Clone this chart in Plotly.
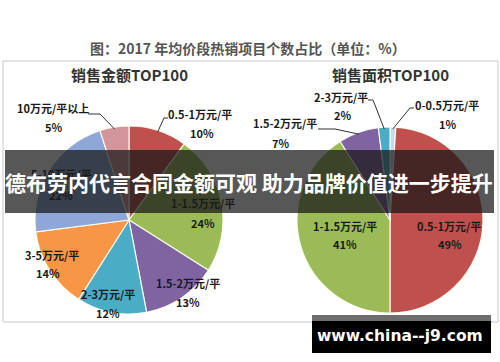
import math
import plotly.graph_objects as go

W, H = 500, 362

# ---------------- data ----------------
title_text = "图：2017 年均价段热销项目个数占比（单位：%）"
banner_text = "德布劳内代言合同金额可观 助力品牌价值进一步提升"
watermark_text = "www.china--j9.com"

left_title = "销售金额TOP100"
left_labels = ["0.5-1万元/平", "1-1.5万元/平", "1.5-2万元/平", "2-3万元/平",
               "3-5万元/平", "5-10万元/平", "10万元/平以上"]
left_values = [10, 24, 13, 12, 14, 22, 5]

right_title = "销售面积TOP100"
right_labels = ["0-0.5万元/平", "0.5-1万元/平", "1-1.5万元/平", "1.5-2万元/平", "2-3万元/平"]
right_values = [1, 49, 41, 7, 2]

# ---------------- styles / positions ----------------
color_map = {
    "0-0.5万元/平": "#C6D9F1",
    "0.5-1万元/平": "#C0504D",
    "1-1.5万元/平": "#9BBB59",
    "1.5-2万元/平": "#8064A2",
    "2-3万元/平": "#4BACC6",
    "3-5万元/平": "#F79646",
    "5-10万元/平": "#8EA6D8",
    "10万元/平以上": "#D4959A",
}

# pie centres and radii in pixels
L_CX, L_CY, L_R = 129, 220, 94
R_CX, R_CY, R_R = 390, 220, 93

# label (name, value) centres in pixels
left_pos = {
    "0.5-1万元/平": ((200, 114), (202, 133)),
    "1-1.5万元/平": ((203, 203), (203, 223)),
    "1.5-2万元/平": ((188, 283), (188, 302)),
    "2-3万元/平": ((108, 294), (108, 313)),
    "3-5万元/平": ((52, 255), (48, 273)),
    "5-10万元/平": ((61, 174), (61, 195)),
    "10万元/平以上": ((53, 108), (53, 127)),
}
right_pos = {
    "0-0.5万元/平": ((447, 105), (447, 124)),
    "0.5-1万元/平": ((449, 226), (450, 244)),
    "1-1.5万元/平": ((345, 226), (345, 244)),
    "1.5-2万元/平": ((285, 123), (280, 143)),
    "2-3万元/平": ((341, 97), (342, 115)),
}
# leader line start points (pixels); line ends on the slice edge
left_leaders = {
    "10万元/平以上": [(88, 114), (100, 114)],
    "0.5-1万元/平": [(168, 118), (164, 118)],
}
right_leaders = {
    "2-3万元/平": [(368, 100), (373, 100)],
    "0-0.5万元/平": [(414, 108), (410, 108)],
    "1.5-2万元/平": [(318, 129), (335, 129)],
}


def px(x):
    return x / W


def py(y):
    return 1 - y / H


def edge_point(values, labels, label, cx, cy, r, f=0.98):
    i = labels.index(label)
    total = sum(values)
    mid = (sum(values[:i]) + values[i] / 2) / total
    a = 2 * math.pi * mid
    return (cx + f * r * math.sin(a), cy - f * r * math.cos(a))


def pie_domain(cx, cy, r):
    return dict(x=[px(cx - r), px(cx + r)], y=[py(cy + r), py(cy - r)])


fig = go.Figure()
for labels, values, (cx, cy, r) in [
    (left_labels, left_values, (L_CX, L_CY, L_R)),
    (right_labels, right_values, (R_CX, R_CY, R_R)),
]:
    fig.add_trace(go.Pie(
        labels=labels, values=values, sort=False, direction="clockwise",
        rotation=0, textinfo="none", hoverinfo="skip",
        marker=dict(colors=[color_map[l] for l in labels],
                    line=dict(color="rgba(255,255,240,0.9)", width=1.2)),
        domain=pie_domain(cx, cy, r), showlegend=False,
    ))

CJK = "Noto Sans CJK SC"
shapes = []
annotations = []

# chart frame
shapes.append(dict(type="rect", xref="paper", yref="paper",
                   x0=px(3), x1=px(498), y0=py(322), y1=py(61),
                   line=dict(color="#c8c8c8", width=1), layer="below"))

# title and subtitles
annotations.append(dict(text=title_text, x=px(248), y=py(48), showarrow=False,
                        xanchor="center", yanchor="middle",
                        font=dict(family=CJK, size=14, color="#555555", weight="bold")))
annotations.append(dict(text=left_title, x=px(L_CX), y=py(75), showarrow=False,
                        xanchor="center", yanchor="middle",
                        font=dict(family=CJK, size=15, color="#333333", weight="bold")))
annotations.append(dict(text=right_title, x=px(R_CX), y=py(75), showarrow=False,
                        xanchor="center", yanchor="middle",
                        font=dict(family=CJK, size=15, color="#333333", weight="bold")))

# pie labels
lab_font = dict(family=CJK, size=11, color="#1a1a1a", weight="bold")
for labels, values, pos in [(left_labels, left_values, left_pos),
                            (right_labels, right_values, right_pos)]:
    total = sum(values)
    for lab, v in zip(labels, values):
        (nx, ny), (vx, vy) = pos[lab]
        annotations.append(dict(text=lab, x=px(nx), y=py(ny), showarrow=False,
                                xanchor="center", yanchor="middle", font=lab_font))
        annotations.append(dict(text=f"{round(100 * v / total)}%", x=px(vx), y=py(vy),
                                showarrow=False, xanchor="center", yanchor="middle",
                                font=lab_font))

# leader lines
for labels, values, leaders, (cx, cy, r) in [
    (left_labels, left_values, left_leaders, (L_CX, L_CY, L_R)),
    (right_labels, right_values, right_leaders, (R_CX, R_CY, R_R)),
]:
    for lab, pts in leaders.items():
        end = edge_point(values, labels, lab, cx, cy, r)
        allp = pts + [end]
        path = "M " + " L ".join(f"{px(x):.5f},{py(y):.5f}" for x, y in allp)
        shapes.append(dict(type="path", xref="paper", yref="paper", path=path,
                           line=dict(color="#333333", width=1), layer="above"))

# banner overlay
shapes.append(dict(type="rect", xref="paper", yref="paper",
                   x0=px(5), x1=px(494), y0=py(213), y1=py(150),
                   fillcolor="rgba(22,22,22,0.72)", line=dict(width=0), layer="above"))
annotations.append(dict(text=banner_text, x=px(3), y=py(182), showarrow=False,
                        xanchor="left", yanchor="middle",
                        font=dict(family=CJK, size=21, color="#ffffff", weight="bold")))

# watermark
shapes.append(dict(type="rect", xref="paper", yref="paper",
                   x0=px(312), x1=px(491), y0=py(321), y1=py(315),
                   fillcolor="#6e6e6e", line=dict(width=0), layer="above"))
shapes.append(dict(type="rect", xref="paper", yref="paper",
                   x0=px(312), x1=px(491), y0=py(353), y1=py(321),
                   fillcolor="#000000", line=dict(width=0), layer="above"))
annotations.append(dict(text=watermark_text, x=px(400), y=py(336), showarrow=False,
                        xanchor="center", yanchor="middle",
                        font=dict(family="DejaVu Sans", size=15.5, color="#ffffff",
                                  weight="bold")))

fig.update_layout(
    width=W, height=H, margin=dict(l=0, r=0, t=0, b=0),
    paper_bgcolor="#ffffff", plot_bgcolor="#ffffff",
    shapes=shapes, annotations=annotations,
)

fig.write_html(
    "out.html",
    config={"displayModeBar": False},
    post_script="document.body.style.margin='0';document.body.style.overflow='hidden';",
)
